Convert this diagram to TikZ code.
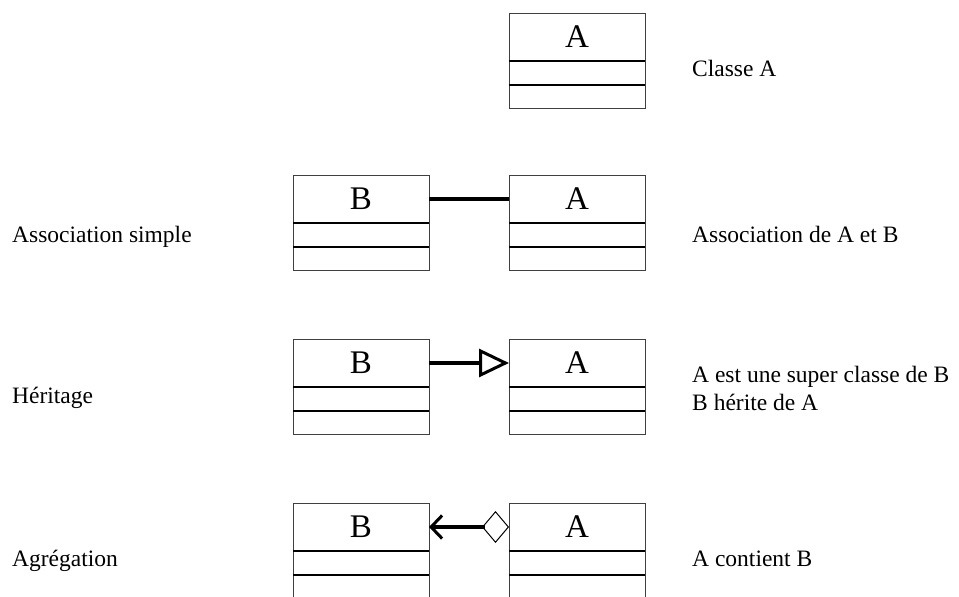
\documentclass[tikz,border=0pt]{standalone}
\usepackage{fontspec}
\setmainfont{Liberation Serif}
\usetikzlibrary{arrows.meta}
\begin{document}
\begin{tikzpicture}[x=1pt,y=-1pt,
  classbox/.style={draw=black!75, line width=0.9pt, minimum width=136pt, minimum height=95pt, inner sep=0pt, outer sep=0pt, anchor=north west},
  classtitle/.style={minimum width=136pt, minimum height=48pt, inner sep=0pt, outer sep=0pt, anchor=north, font=\fontsize{33}{36}\selectfont},
  divider/.style={line width=1.3pt, black},
  lbl/.style={anchor=base west, inner sep=0pt, font=\fontsize{23.5}{28}\selectfont},
  connline/.style={draw=black, line width=3.2pt}
]
\useasboundingbox[fill=white] (0,0) rectangle (959,597);

% class boxes
\foreach \n/\x/\y/\t in {a1/509/13/A, b2/293/175/B, a2/509/175/A, b3/293/339/B, a3/509/339/A, b4/293/503/B, a4/509/503/A}{
  \node[classbox] (\n) at (\x,\y) {};
  \node[classtitle] (\n t) at (\n.north) {\t};
  \draw[divider] ([yshift=-48pt]\n.north west) -- ([yshift=-48pt]\n.north east);
  \draw[divider] ([yshift=-72pt]\n.north west) -- ([yshift=-72pt]\n.north east);
}

% connectors
\draw[connline] (b2t.east) -- (a2t.west);
\draw[connline, -{Triangle[open, length=30pt, width=28pt, line width=3pt]}] (b3t.east) -- (a3t.west);
\draw[connline, {Diamond[open, length=27pt, width=32pt, line width=1pt]}-{Straight Barb[length=11pt, width=23pt, line width=3pt]}] (a4t.west) -- (b4t.east);

% labels
\node[lbl] (l1) at (692,76) {Classe A};
\node[lbl] (l2a) at (12,242) {Association simple};
\node[lbl] (l2b) at (692,242) {Association de A et B};
\node[lbl] (l3a) at (12,403) {Héritage};
\node[lbl] (l3b) at (692,382) {A est une super classe de B};
\node[lbl] (l3c) at (692,410) {B hérite de A};
\node[lbl] (l4a) at (12,566) {Agrégation};
\node[lbl] (l4b) at (692,566) {A contient B};
\end{tikzpicture}
\end{document}
